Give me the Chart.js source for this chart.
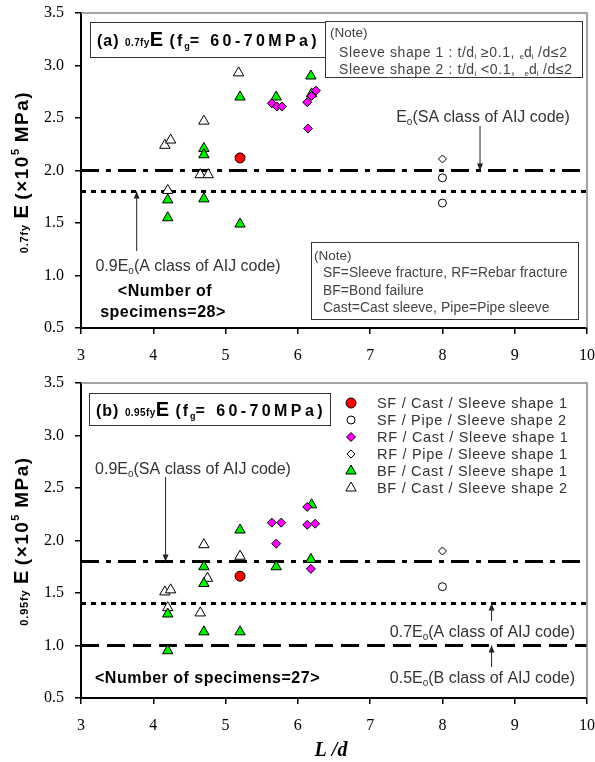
<!DOCTYPE html>
<html>
<head>
<meta charset="utf-8">
<script src="https://cdn.jsdelivr.net/npm/chart.js@4.4.1/dist/chart.umd.min.js"></script>
<style>
  body { margin: 0; background: #fff; }
  #wrap { position: relative; width: 595px; height: 762px; }
  canvas { position: absolute; left: 0; }
</style>
</head>
<body>
<div id="wrap">
  <canvas id="chartA" width="595" height="370" style="top:0"></canvas>
  <canvas id="chartB" width="595" height="392" style="top:370px"></canvas>
</div>
<script>
// ---- data ----
const xTicks = [3, 4, 5, 6, 7, 8, 9, 10];
const yTicks = [0.5, 1.0, 1.5, 2.0, 2.5, 3.0, 3.5];

const legendLabels = [
    'SF / Cast / Sleeve shape 1',
    'SF / Pipe / Sleeve shape 2',
    'RF / Cast / Sleeve shape 1',
    'RF / Pipe / Sleeve shape 1',
    'BF / Cast / Sleeve shape 1',
    'BF / Cast / Sleeve shape 2'
];

// (a) 0.7fy E
const aSfCastX = [5.2];
const aSfCastY = [2.12];
const aSfPipeX = [8, 8];
const aSfPipeY = [1.93, 1.69];
const aRfCastX = [5.64, 5.71, 5.78, 6.25, 6.19, 6.13, 6.14];
const aRfCastY = [2.64, 2.61, 2.61, 2.76, 2.71, 2.65, 2.40];
const aRfPipeX = [8];
const aRfPipeY = [2.11];
const aBf1X = [5.2, 5.7, 6.18, 6.19, 4.7, 4.7, 4.2, 4.7, 4.2, 5.2];
const aBf1Y = [2.70, 2.70, 2.90, 2.73, 2.21, 2.15, 1.72, 1.73, 1.55, 1.49];
const aBf2X = [5.18, 4.7, 4.16, 4.24, 4.65, 4.76, 4.2];
const aBf2Y = [2.93, 2.47, 2.24, 2.29, 1.96, 1.96, 1.81];
const aLevels = [2.0, 1.8];   // Eo, 0.9Eo

// (b) 0.95fy E
const bSfCastX = [5.2];
const bSfCastY = [1.66];
const bSfPipeX = [8];
const bSfPipeY = [1.56];
const bRfCastX = [6.13, 5.64, 5.77, 6.13, 6.24, 5.7, 6.18];
const bRfCastY = [2.32, 2.17, 2.17, 2.15, 2.16, 1.97, 1.73];
const bRfPipeX = [8];
const bRfPipeY = [1.90];
const bBf1X = [5.2, 4.7, 4.7, 4.2, 4.7, 5.2, 4.2, 5.7, 6.19, 6.18];
const bBf1Y = [2.10, 1.75, 1.59, 1.30, 1.13, 1.13, 0.95, 1.75, 2.34, 1.82];
const bBf2X = [4.7, 5.2, 4.75, 4.16, 4.24, 4.2, 4.65];
const bBf2Y = [1.96, 1.85, 1.64, 1.51, 1.53, 1.36, 1.31];
const bLevels = [1.8, 1.4, 1.0];   // 0.9Eo, 0.7Eo, 0.5Eo

// ---- styles ----
const SANS = "'Liberation Sans', Arial, sans-serif";
const SERIF = "'Liberation Serif', 'Times New Roman', serif";
const markerStyles = [
    { pointStyle: 'circle', radius: 5, bg: '#ff0000' },
    { pointStyle: 'circle', radius: 4, bg: '#ffffff' },
    { pointStyle: 'rectRot', radius: 4.5, bg: '#ff00ff' },
    { pointStyle: 'rectRot', radius: 4, bg: '#ffffff' },
    { pointStyle: 'triangle', radius: 6, bg: '#00ee00' },
    { pointStyle: 'triangle', radius: 6, bg: '#ffffff' }
];
const dashDot = [18, 7, 5, 7];
const dotted = [5, 5];
const dashed = [18, 8];

function pts(xs, ys) {
    return xs.map((x, i) => ({ x: x, y: ys[i] }));
}

function scatterSets(groups) {
    return groups.map((g, i) => ({
        type: 'scatter',
        label: legendLabels[i],
        data: pts(g[0], g[1]),
        pointStyle: markerStyles[i].pointStyle,
        pointRadius: markerStyles[i].radius,
        pointHoverRadius: markerStyles[i].radius,
        backgroundColor: markerStyles[i].bg,
        borderColor: '#000',
        borderWidth: 1,
        order: i
    }));
}

function levelSet(level, dash) {
    return {
        type: 'line',
        data: [{ x: xTicks[0], y: level }, { x: xTicks[xTicks.length - 1], y: level }],
        borderColor: '#000',
        borderWidth: 3,
        borderDash: dash,
        pointRadius: 0,
        fill: false,
        order: 10
    };
}

// draw a run of text pieces: [text, size, bold, dy, spacing]
function rich(ctx, x, y, segs, align, color) {
    const fontOf = s => (s[2] ? 'bold ' : '') + s[1] + 'px ' + SANS;
    let w = 0;
    segs.forEach(s => {
        ctx.font = fontOf(s);
        ctx.letterSpacing = (s[4] || 0) + 'px';
        w += ctx.measureText(s[0]).width;
    });
    let cx = align === 'center' ? x - w / 2 : (align === 'right' ? x - w : x);
    ctx.fillStyle = color || '#000';
    ctx.textAlign = 'left';
    ctx.textBaseline = 'alphabetic';
    segs.forEach(s => {
        ctx.font = fontOf(s);
        ctx.letterSpacing = (s[4] || 0) + 'px';
        ctx.fillText(s[0], cx, y + (s[3] || 0));
        cx += ctx.measureText(s[0]).width;
    });
    ctx.letterSpacing = '0px';
}

function arrow(ctx, x, y1, y2) {
    ctx.save();
    ctx.strokeStyle = '#222';
    ctx.fillStyle = '#222';
    ctx.lineWidth = 1;
    ctx.setLineDash([]);
    ctx.beginPath();
    ctx.moveTo(x, y1);
    ctx.lineTo(x, y2);
    ctx.stroke();
    const d = y2 > y1 ? -1 : 1;
    ctx.beginPath();
    ctx.moveTo(x, y2);
    ctx.lineTo(x - 3, y2 + d * 7);
    ctx.lineTo(x + 3, y2 + d * 7);
    ctx.closePath();
    ctx.fill();
    ctx.restore();
}

function box(ctx, x, y, w, h) {
    ctx.save();
    ctx.strokeStyle = '#333';
    ctx.lineWidth = 1;
    ctx.fillStyle = '#fff';
    ctx.fillRect(x, y, w, h);
    ctx.strokeRect(x + 0.5, y + 0.5, w, h);
    ctx.restore();
}

function frame(chart) {
    const a = chart.chartArea, ctx = chart.ctx;
    ctx.save();
    ctx.strokeStyle = '#888';
    ctx.lineWidth = 1.5;
    ctx.beginPath();
    ctx.moveTo(a.left, a.top);
    ctx.lineTo(a.right, a.top);
    ctx.lineTo(a.right, a.bottom);
    ctx.stroke();
    ctx.restore();
}

function yTitle(ctx, cx, cy, sub) {
    ctx.save();
    ctx.translate(cx, cy);
    ctx.rotate(-Math.PI / 2);
    rich(ctx, 0, 6, [
        [sub, 11, true, 0, 0.8],
        [' E ', 20, true],
        ['(\u00d710', 19, true, 0, 1.5],
        ['5', 11, true, -9],
        [' MPa)', 19, true, 0, 1.5]
    ], 'center', '#000');
    ctx.restore();
}

function axesOptions(xHeight) {
    return {
        x: {
            type: 'linear', min: 3, max: 10,
            afterBuildTicks: s => { s.ticks = xTicks.map(v => ({ value: v })); },
            afterFit: s => { s.height = xHeight; s.paddingLeft = 0; s.paddingRight = 0; },
            grid: { drawOnChartArea: false, drawTicks: true, tickLength: 6, color: '#000', lineWidth: 1.5 },
            border: { display: true, color: '#000', width: 2 },
            ticks: { color: '#000', padding: 12, font: { family: SERIF, size: 16 }, maxRotation: 0 }
        },
        y: {
            type: 'linear', min: 0.5, max: 3.5,
            afterBuildTicks: s => { s.ticks = yTicks.map(v => ({ value: v })); },
            afterFit: s => { s.width = 81; s.paddingTop = 0; s.paddingBottom = 0; },
            grid: { drawOnChartArea: false, drawTicks: true, tickLength: 6, color: '#000', lineWidth: 1.5 },
            border: { display: true, color: '#000', width: 2 },
            ticks: { color: '#000', padding: 11, font: { family: SERIF, size: 16 }, callback: v => v.toFixed(1) }
        }
    };
}

const NOTE = '#444';

const decorA = {
    id: 'decorA',
    afterDraw(chart) {
        const ctx = chart.ctx, xs = chart.scales.x, ys = chart.scales.y;
        frame(chart);
        // title box
        box(ctx, 90, 22, 235, 35);
        rich(ctx, 97, 46, [
            ['(a) ', 16, true, 0, 1],
            ['0.7fy', 10, true, 0, 0.4],
            ['E', 20, true],
            [' (f', 16, true, 0, 2],
            ['g', 9, true, 3],
            ['= 60-70MPa)', 16, true, 0, 3.4]
        ], 'left', '#000');
        // note 1
        box(ctx, 325, 21, 257, 56);
        rich(ctx, 330, 37, [['(Note)', 13.5]], 'left', NOTE);
        rich(ctx, 339, 57, [['Sleeve shape 1 : t/d', 14, false, 0, 0.6], ['i', 8, false, 2], [' \u22650.1, ', 14, false, 0, 0.6], ['e', 8, false, 2], ['d', 14], ['i', 8, false, 2], [' /d\u22642', 14, false, 0, 0.6]], 'left', NOTE);
        rich(ctx, 339, 74, [['Sleeve shape 2 : t/d', 14, false, 0, 0.6], ['i', 8, false, 2], [' <0.1,  ', 14, false, 0, 0.6], ['e', 8, false, 2], ['d', 14], ['i', 8, false, 2], [' /d\u22642', 14, false, 0, 0.6]], 'left', NOTE);
        // note 2
        box(ctx, 311, 242, 267, 77);
        rich(ctx, 314, 260, [['(Note)', 13.5]], 'left', NOTE);
        rich(ctx, 323, 277, [['SF=Sleeve fracture, RF=Rebar fracture', 13.8, false, 0, 0.1]], 'left', NOTE);
        rich(ctx, 323, 295, [['BF=Bond failure', 13.8, false, 0, 0.1]], 'left', NOTE);
        rich(ctx, 323, 312, [['Cast=Cast sleeve, Pipe=Pipe sleeve', 13.8, false, 0, 0.1]], 'left', NOTE);
        // level labels
        rich(ctx, 483, 122, [['E', 16], ['o', 10, false, 3], ['(SA class of AIJ code)', 16]], 'center', '#333');
        arrow(ctx, xs.getPixelForValue(8.52), 126, ys.getPixelForValue(aLevels[0]));
        rich(ctx, 188, 271, [['0.9E', 16], ['o', 10, false, 3], ['(A class of AIJ code)', 16]], 'center', '#333');
        arrow(ctx, xs.getPixelForValue(3.77), 251, ys.getPixelForValue(aLevels[1]));
        rich(ctx, 165, 296, [['<Number of', 16, true, 0, 0.5]], 'center', '#000');
        rich(ctx, 163, 317, [['specimens=28>', 16, true, 0, 0.5]], 'center', '#000');
        yTitle(ctx, 22, 172, '0.7fy');
    }
};

const decorB = {
    id: 'decorB',
    afterDraw(chart) {
        const ctx = chart.ctx, xs = chart.scales.x, ys = chart.scales.y;
        frame(chart);
        box(ctx, 89, 23, 241, 32);
        rich(ctx, 96, 46, [
            ['(b) ', 16, true, 0, 1],
            ['0.95fy', 10, true, 0, 0.4],
            ['E', 20, true],
            [' (f', 16, true, 0, 2],
            ['g', 9, true, 3],
            ['= 60-70MPa)', 16, true, 0, 3.4]
        ], 'left', '#000');
        // legend
        chart.data.datasets.forEach((ds, i) => {
            if (ds.type !== 'scatter') return;
            const cy = 33 + i * 17;
            const st = markerStyles[i];
            ctx.save();
            ctx.fillStyle = st.bg;
            ctx.strokeStyle = '#000';
            ctx.lineWidth = 1;
            Chart.helpers.drawPoint(ctx, { pointStyle: st.pointStyle, radius: st.radius, borderWidth: 1 }, 351, cy);
            ctx.restore();
            rich(ctx, 377, cy + 5, [[ds.label, 14.5, false, 0, 0.7]], 'left', '#333');
        });
        rich(ctx, 193, 104, [['0.9E', 16], ['o', 10, false, 3], ['(SA class of AIJ code)', 16]], 'center', '#333');
        arrow(ctx, xs.getPixelForValue(4.17), 107, ys.getPixelForValue(bLevels[0]));
        rich(ctx, 575, 267, [['0.7E', 16], ['o', 10, false, 3], ['(A class of AIJ code)', 16]], 'right', '#333');
        arrow(ctx, xs.getPixelForValue(8.68), 251, ys.getPixelForValue(bLevels[1]));
        rich(ctx, 575, 313, [['0.5E', 16], ['o', 10, false, 3], ['(B class of AIJ code)', 16]], 'right', '#333');
        arrow(ctx, xs.getPixelForValue(8.68), 297, ys.getPixelForValue(bLevels[2]));
        rich(ctx, 95, 313, [['<Number of specimens=27>', 16, true, 0, 0.5]], 'left', '#000');
        yTitle(ctx, 22, 171, '0.95fy');
        // x title
        ctx.save();
        ctx.font = 'italic bold 20px ' + SERIF;
        ctx.fillStyle = '#000';
        ctx.textAlign = 'center';
        ctx.fillText('L /d', 331, 386);
        ctx.restore();
    }
};

function makeChart(id, groups, levels, dashes, xHeight, plugin) {
    const sets = scatterSets(groups).concat(levels.map((lv, i) => levelSet(lv, dashes[i])));
    return new Chart(document.getElementById(id), {
        type: 'scatter',
        data: { datasets: sets },
        options: {
            responsive: false,
            animation: false,
            layout: { padding: { left: 0, right: 8, top: 13, bottom: 0 } },
            plugins: { legend: { display: false }, tooltip: { enabled: false } },
            scales: axesOptions(xHeight)
        },
        plugins: [plugin]
    });
}

makeChart('chartA',
    [[aSfCastX, aSfCastY], [aSfPipeX, aSfPipeY], [aRfCastX, aRfCastY], [aRfPipeX, aRfPipeY], [aBf1X, aBf1Y], [aBf2X, aBf2Y]],
    aLevels, [dashDot, dotted], 42, decorA);

makeChart('chartB',
    [[bSfCastX, bSfCastY], [bSfPipeX, bSfPipeY], [bRfCastX, bRfCastY], [bRfPipeX, bRfPipeY], [bBf1X, bBf1Y], [bBf2X, bBf2Y]],
    bLevels, [dashDot, dotted, dashed], 64, decorB);
</script>
</body>
</html>
